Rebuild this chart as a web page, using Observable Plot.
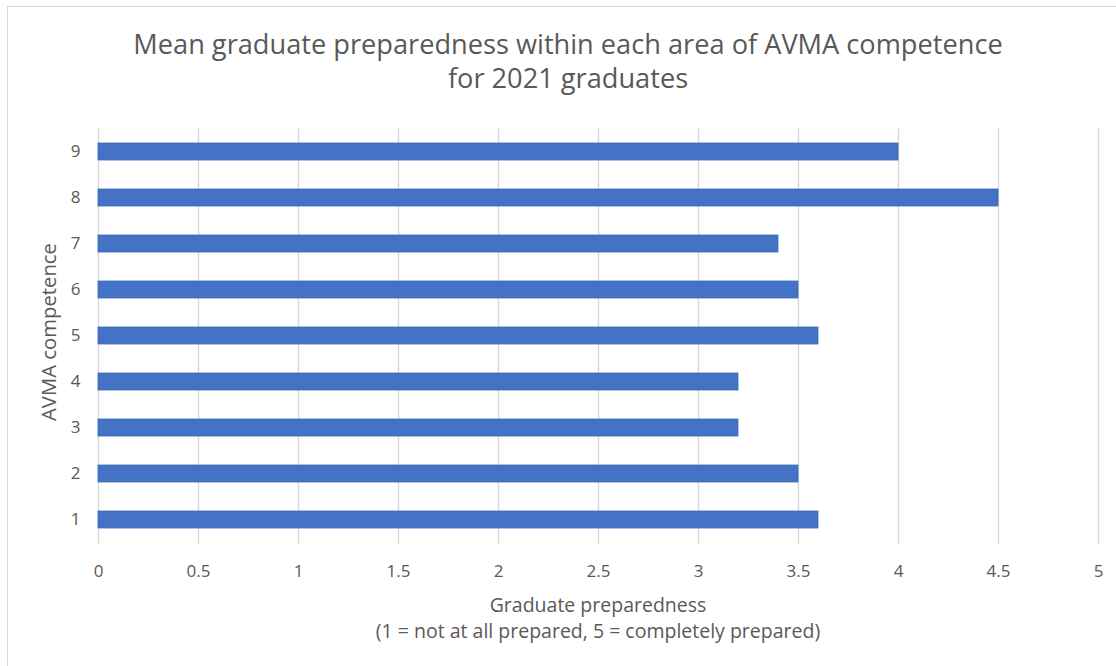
<!DOCTYPE html>
<html>
<head>
<meta charset="utf-8">
<script src="https://cdn.jsdelivr.net/npm/d3@7"></script>
<script src="https://cdn.jsdelivr.net/npm/@observablehq/plot@0.6"></script>
<style>
  html, body { margin: 0; padding: 0; background: #fff; }
  #chart {
    position: relative; width: 1116px; height: 666px; overflow: hidden;
    font-family: "Open Sans", Lato, sans-serif; color: #595959;
  }
  #frame {
    position: absolute; left: 7px; top: 6px; right: -4px; bottom: -4px;
    border-top: 1.5px solid #d9d9d9; border-left: 1.5px solid #d9d9d9;
  }
  #chart svg { position: absolute; left: 0; top: 0; }
  .title {
    position: absolute; left: 568px; transform: translateX(-50%);
    white-space: nowrap; font-size: 27.2px; line-height: 34px; text-align: center; top: 27px;
  }
  .ylabel {
    position: absolute; left: 48px; top: 332px; white-space: nowrap;
    font-size: 20.3px; line-height: 1; transform: translate(-50%, -50%) rotate(-90deg);
  }
  .xlabel {
    position: absolute; left: 598px; transform: translateX(-50%); white-space: nowrap;
    font-size: 19.5px; line-height: 26px; text-align: center; top: 592px;
  }
</style>
</head>
<body>
<div id="chart">
  <div id="frame"></div>
</div>
<script>
// AVMA competence areas and mean preparedness score of 2021 graduates
const competences = ["1", "2", "3", "4", "5", "6", "7", "8", "9"];
const meanScores = [3.6, 3.5, 3.2, 3.2, 3.6, 3.5, 3.4, 4.5, 4.0];
const xTicks = [0, 0.5, 1, 1.5, 2, 2.5, 3, 3.5, 4, 4.5, 5];

const titleLines = ["Mean graduate preparedness within each area of AVMA competence", "for 2021 graduates"];
const yTitle = "AVMA competence";
const xTitleLines = ["Graduate preparedness", "(1 = not at all prepared, 5 = completely prepared)"];

const rows = competences.map((c, i) => ({competence: c, score: meanScores[i]}));

const chart = document.getElementById("chart");

const plot = Plot.plot({
  width: 1116,
  height: 666,
  marginLeft: 98,
  marginRight: 18,
  marginTop: 128,
  marginBottom: 122,
  style: {fontFamily: "'Open Sans', Lato, sans-serif", fontSize: "17px", color: "#595959", background: "transparent"},
  x: {domain: [0, 5]},
  y: {domain: competences.slice().reverse(), paddingInner: 0.63, paddingOuter: 0.315},
  marks: [
    Plot.gridX(xTicks, {stroke: "#d9d9d9", strokeOpacity: 1, strokeWidth: 1.4}),
    Plot.barX(rows, {x: "score", y: "competence", fill: "#4472c4", stroke: "#3d69b8", strokeWidth: 0.8}),
    Plot.axisX({ticks: xTicks, tickFormat: d => String(d), tickSize: 0, tickPadding: 20, label: null}),
    Plot.axisY({tickSize: 0, tickPadding: 18, label: null})
  ]
});
chart.appendChild(plot);

const title = document.createElement("div");
title.className = "title";
title.innerHTML = titleLines.join("<br>");
chart.appendChild(title);

const yl = document.createElement("div");
yl.className = "ylabel";
yl.textContent = yTitle;
chart.appendChild(yl);

const xl = document.createElement("div");
xl.className = "xlabel";
xl.innerHTML = xTitleLines.join("<br>");
chart.appendChild(xl);
</script>
</body>
</html>
